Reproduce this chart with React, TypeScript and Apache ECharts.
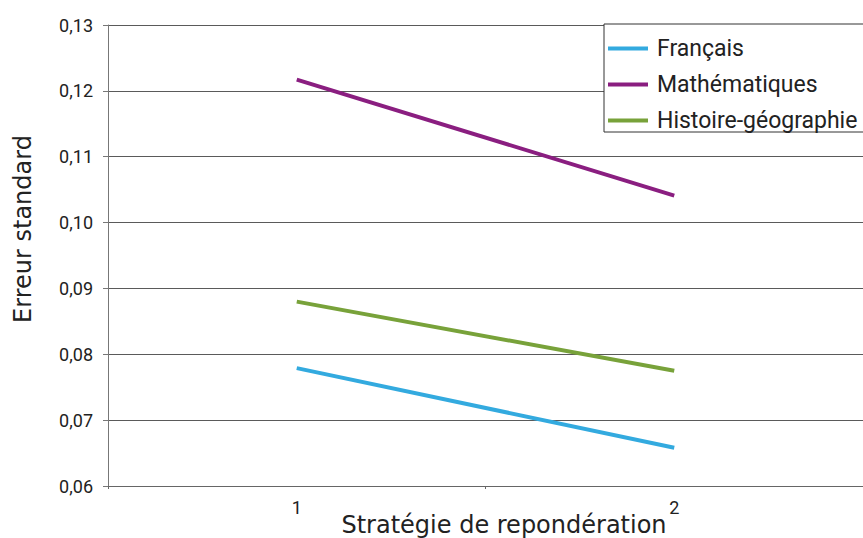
import React, { useEffect, useRef } from "react";
import * as echarts from "echarts";

const categories = ["1", "2"];
const seriesNames = ["Français", "Mathématiques", "Histoire-géographie"];
const francais = [0.0779, 0.0658];
const mathematiques = [0.1217, 0.1041];
const histoireGeo = [0.088, 0.0775];
const seriesColors = ["#33aadf", "#8a1e80", "#78a23a"];
const yTitle = "Erreur standard";
const xTitle = "Stratégie de repondération";

export default function App() {
  const ref = useRef<HTMLDivElement>(null);
  useEffect(() => {
    if (!ref.current) return;
    const chart = echarts.init(ref.current, null, { renderer: "svg" });
    const values = [francais, mathematiques, histoireGeo];
    chart.setOption({
      animation: false,
      backgroundColor: "#ffffff",
      grid: { left: 108, top: 25, width: 762, height: 461, containLabel: false },
      legend: {
        data: seriesNames,
        orient: "vertical",
        left: 604,
        top: 24,
        padding: [13, 40, 0, 4],
        borderColor: "#333",
        borderWidth: 1,
        backgroundColor: "#ffffff",
        itemWidth: 40,
        itemHeight: 4,
        itemGap: 13,
        icon: "rect",
        textStyle: {
          fontFamily: "Roboto",
          fontSize: 23,
          color: "#222",
          lineHeight: 18,
          padding: [0, 0, 0, 4],
        },
      },
      xAxis: {
        type: "category",
        data: categories,
        boundaryGap: true,
        axisLine: { show: true, lineStyle: { color: "#666", width: 1 } },
        axisTick: { show: true, length: 3, lineStyle: { color: "#666" } },
        axisLabel: { fontFamily: "Roboto", fontSize: 18, color: "#222", margin: 12 },
        splitLine: { show: false },
      },
      yAxis: {
        type: "value",
        min: 0.06,
        max: 0.13,
        interval: 0.01,
        axisLine: { show: true, lineStyle: { color: "#777", width: 1 } },
        axisTick: { show: true, length: 5, lineStyle: { color: "#777" } },
        axisLabel: {
          fontFamily: "Roboto",
          fontSize: 18,
          color: "#222",
          margin: 15,
          formatter: (v: number) => v.toFixed(2).replace(".", ","),
        },
        splitLine: { show: true, lineStyle: { color: "#5a5a5a", width: 1 } },
      },
      series: seriesNames.map((name, i) => ({
        name,
        type: "line",
        data: values[i],
        symbol: "none",
        color: seriesColors[i],
        lineStyle: { color: seriesColors[i], width: 4 },
      })),
      graphic: [
        {
          type: "text",
          x: 23,
          y: 229,
          rotation: Math.PI / 2,
          style: {
            text: yTitle,
            fontFamily: "DejaVu Sans",
            fontSize: 24,
            fill: "#222",
            align: "center",
            verticalAlign: "middle",
          },
        },
        {
          type: "text",
          x: 504,
          y: 525,
          style: {
            text: xTitle,
            fontFamily: "DejaVu Sans",
            fontSize: 24,
            fill: "#222",
            align: "center",
            verticalAlign: "middle",
          },
        },
      ],
    });
    return () => chart.dispose();
  }, []);
  return (
    <div
      ref={ref}
      style={{ position: "fixed", left: 0, top: 0, width: 863, height: 538, background: "#fff" }}
    />
  );
}
